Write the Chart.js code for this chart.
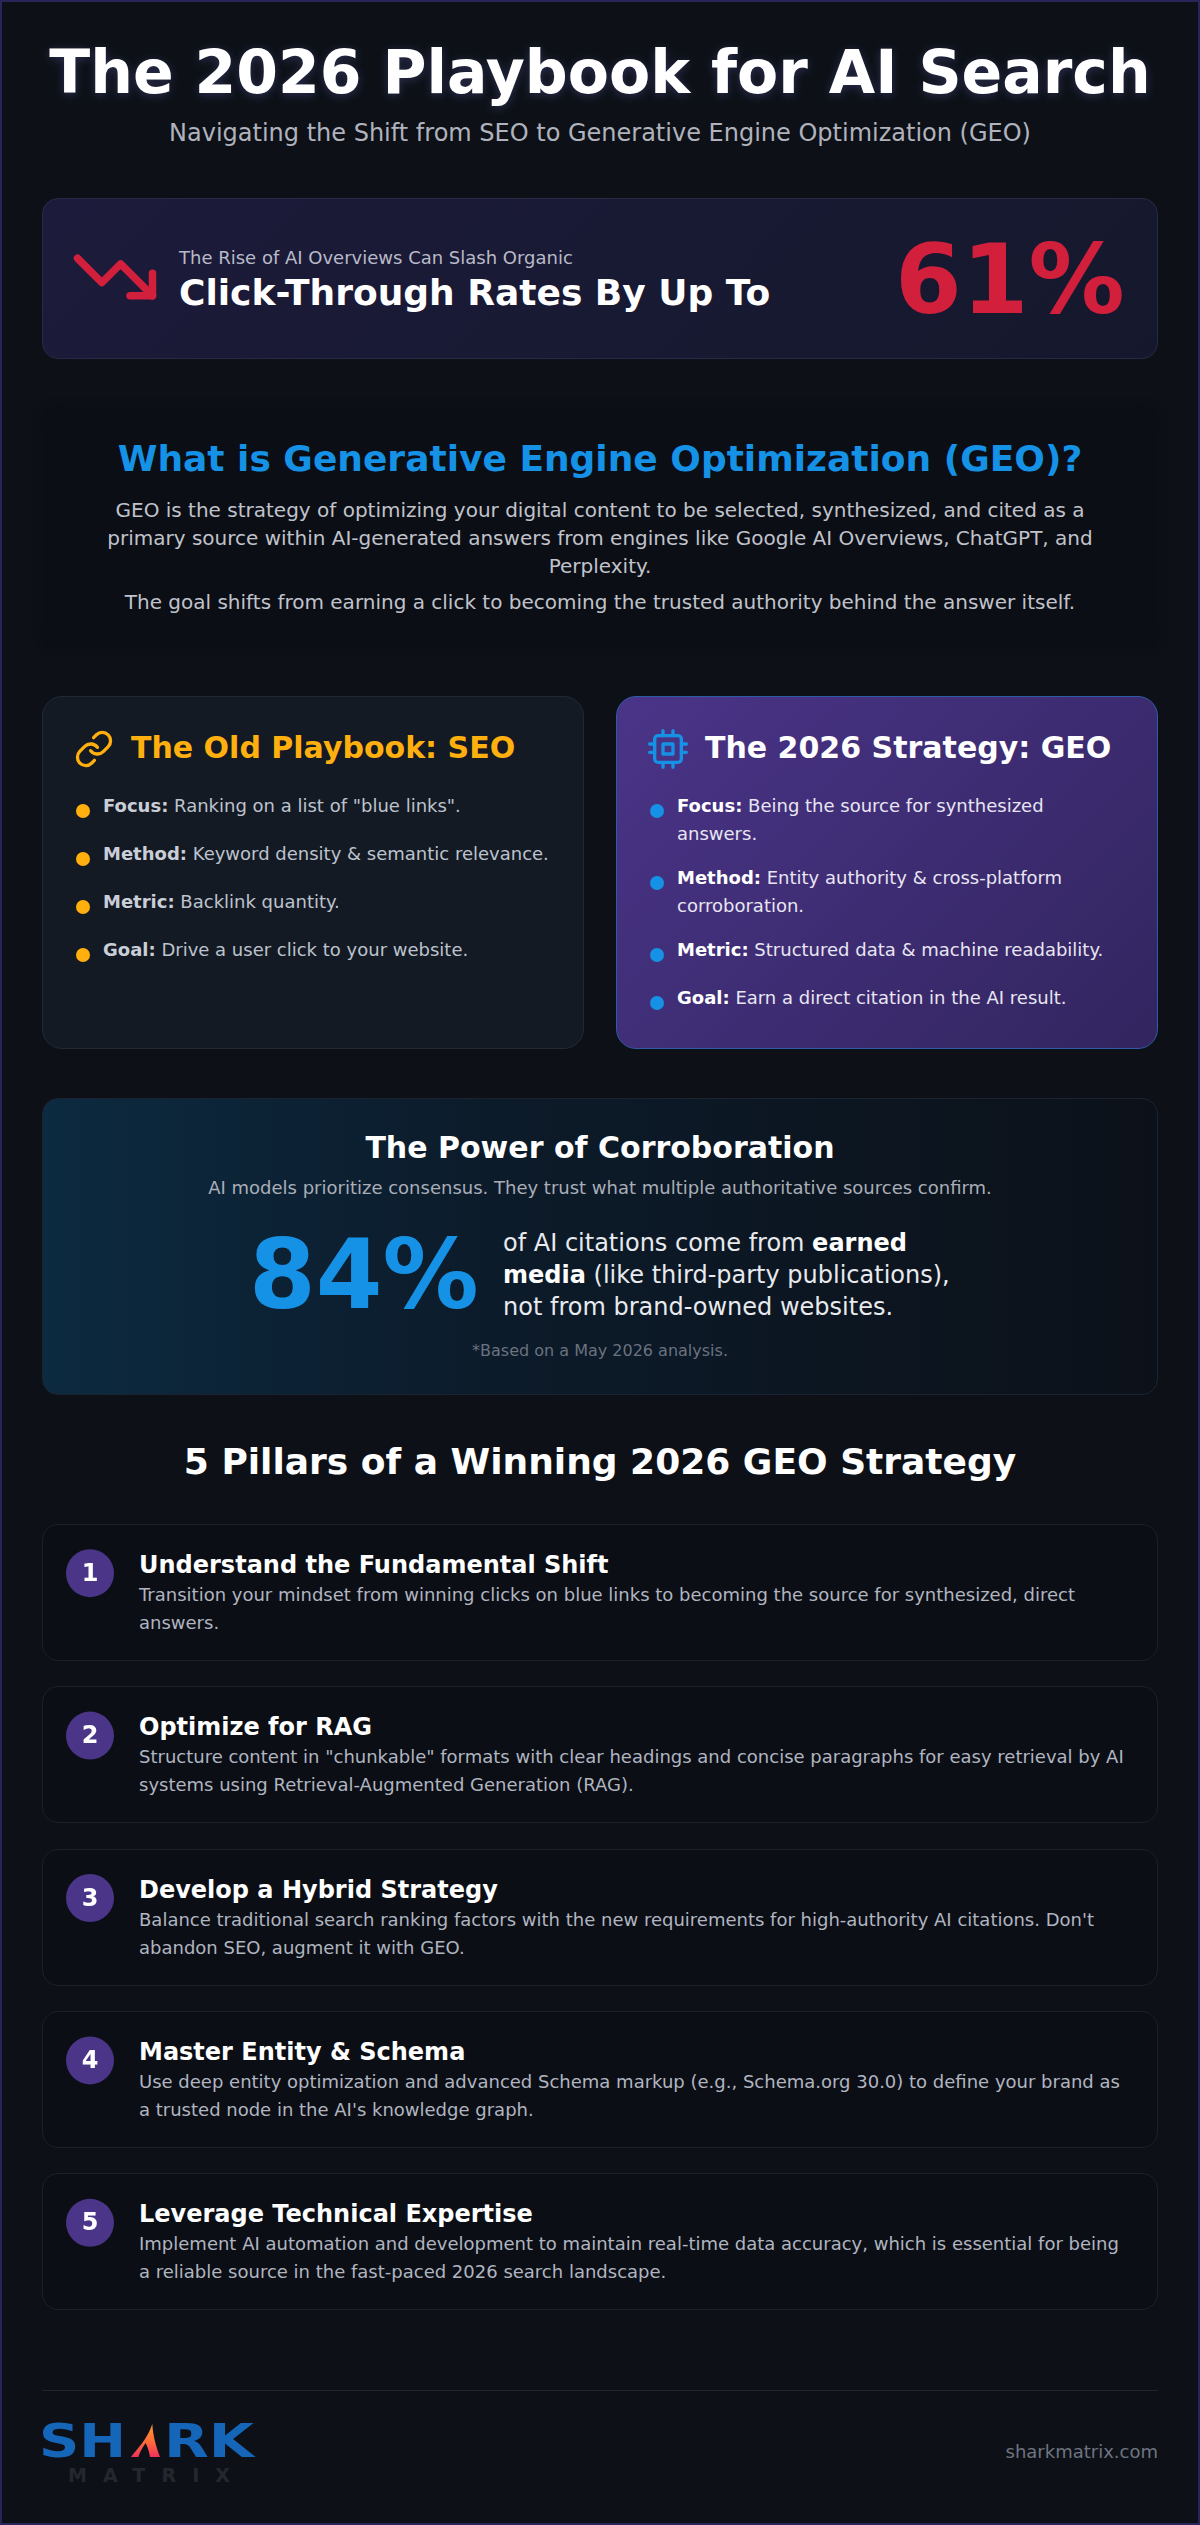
<!DOCTYPE html>
<html>
<head>
<meta charset="utf-8">
<title>The 2026 Playbook for AI Search</title>
<script src="https://cdn.jsdelivr.net/npm/chart.js@4"></script>
<style>
  * { box-sizing: border-box; margin: 0; padding: 0; }
  html, body { background: #0d1117; }
  body { font-family: "DejaVu Sans", sans-serif; }
  #page { position: relative; width: 1200px; height: 2525px; background: #0d1117; border: 2px solid #2a2558; overflow: hidden; }
  /* everything is placed from the page corner, so undo the frame width */
  #inner { position: absolute; left: -2px; top: -2px; width: 1200px; height: 2525px; }
  .a { position: absolute; white-space: nowrap; }
  .c { left: 0; width: 1200px; text-align: center; }
  .box { position: absolute; left: 42px; width: 1116px; border-radius: 16px; }

  #title { top: 32px; font-size: 60px; line-height: 80px; font-weight: 700; color: #fff; text-shadow: 0 2px 10px rgba(120,120,220,.3); }
  #subtitle { top: 116px; font-size: 24px; line-height: 34px; color: #b0b3bd; }

  #alert { top: 198px; height: 161px; background: linear-gradient(135deg, #1c1b3b, #15182c); border: 1px solid #262a45; }
  #alertSmall { left: 179px; top: 244px; font-size: 18px; line-height: 28px; color: #b9bac8; }
  #alertBig { left: 179px; top: 270px; font-size: 36px; line-height: 46px; font-weight: 700; color: #fff; }
  #stat61 { left: 895px; top: 220px; font-size: 96px; line-height: 120px; font-weight: 700; color: #d21f3c; }

  #what { top: 407px; height: 241px; background: #0b0e15; box-shadow: 0 0 8px #0b0e15; }
  #whatHead { top: 434px; font-size: 36px; line-height: 50px; font-weight: 700; color: #1592e6; }
  .whatLine { font-size: 20px; line-height: 28px; color: #c0c3cb; }

  .col { position: absolute; top: 696px; width: 542px; height: 353px; border-radius: 20px; }
  #colSeo { left: 42px; background: #141a23; border: 1px solid #232833; }
  #colGeo { left: 616px; background: linear-gradient(135deg, #4a3488, #32255f); border: 1px solid #2f5aa6; }
  .colHead { top: 726px; font-size: 30px; line-height: 44px; font-weight: 700; }
  .bullet { position: absolute; width: 14px; height: 14px; border-radius: 50%; }
  .item { font-size: 18px; line-height: 28px; }
  .seoItem { color: #bcc3ce; }
  .seoItem b { color: #c9ced8; }
  .geoItem { color: #e8e6f2; }
  .geoItem b { color: #fff; }

  #power { top: 1098px; height: 297px; background: linear-gradient(90deg, #0c2a40, #0c1b2a 40%, #0c1119); border: 1px solid #1b2330; }
  #powerHead { top: 1126px; font-size: 30px; line-height: 44px; font-weight: 700; color: #fff; }
  #powerSub { top: 1174px; font-size: 18px; line-height: 28px; color: #a9aeb8; }
  #stat84 { left: 249px; top: 1215px; font-size: 96px; line-height: 120px; font-weight: 700; color: #1592e6; }
  .powerLine { left: 503px; font-size: 24px; line-height: 32px; color: #e8eaee; }
  .powerLine b { color: #fff; }
  #powerNote { top: 1338px; font-size: 16px; line-height: 26px; color: #6a7280; }

  #pillarsHead { top: 1437px; font-size: 36px; line-height: 50px; font-weight: 700; color: #fff; }
  .pillar { position: absolute; left: 42px; width: 1116px; height: 137px; background: #0b0e15; border: 1px solid #1b2029; border-radius: 16px; }
  #pillarDots { position: absolute; left: 60px; top: 1492px; z-index: 2; }
  .pillarNum { left: 66px; width: 48px; text-align: center; font-size: 24px; line-height: 30px; font-weight: 700; color: #fff; z-index: 3; }
  .pillarTitle { left: 139px; font-size: 24px; line-height: 32px; font-weight: 700; color: #fff; }
  .pillarDesc { left: 139px; font-size: 18px; line-height: 28px; color: #b0b5c0; }

  #footLine { position: absolute; left: 42px; top: 2390px; width: 1116px; height: 1px; background: #22272f; }
  #logo { position: absolute; left: 42px; top: 2420px; }
  #site { right: 42px; top: 2438px; font-size: 18px; line-height: 28px; color: #6e7480; }
</style>
</head>
<body>
<div id="page"><div id="inner">
  <div id="title" class="a c"></div>
  <div id="subtitle" class="a c">Navigating the Shift from SEO to Generative Engine Optimization (GEO)</div>

  <div id="alert" class="box"></div>
  <svg class="a" style="left:69.5px;top:232px" width="90" height="90" viewBox="0 0 24 24" fill="none" stroke="#d21f3c" stroke-width="2" stroke-linecap="round" stroke-linejoin="round">
    <polyline points="22 17 13.5 8.5 8.5 13.5 2 7"></polyline><polyline points="16 17 22 17 22 11"></polyline>
  </svg>
  <div id="alertSmall" class="a">The Rise of AI Overviews Can Slash Organic</div>
  <div id="alertBig" class="a">Click-Through Rates By Up To</div>
  <div id="stat61" class="a"></div>

  <div id="what" class="box"></div>
  <div id="whatHead" class="a c">What is Generative Engine Optimization (GEO)?</div>
  <div class="a c whatLine" style="top:496px">GEO is the strategy of optimizing your digital content to be selected, synthesized, and cited as a</div>
  <div class="a c whatLine" style="top:524px">primary source within AI-generated answers from engines like Google AI Overviews, ChatGPT, and</div>
  <div class="a c whatLine" style="top:552px">Perplexity.</div>
  <div class="a c whatLine" style="top:588px">The goal shifts from earning a click to becoming the trusted authority behind the answer itself.</div>

  <div id="colSeo" class="col"></div>
  <div id="colGeo" class="col"></div>
  <svg class="a" style="left:74px;top:729px" width="40" height="40" viewBox="0 0 24 24" fill="none" stroke="#ffb00f" stroke-width="2" stroke-linecap="round" stroke-linejoin="round">
    <path d="M10 13a5 5 0 0 0 7.54.54l3-3a5 5 0 0 0-7.07-7.07l-1.72 1.71"></path><path d="M14 11a5 5 0 0 0-7.54-.54l-3 3a5 5 0 0 0 7.07 7.07l1.71-1.71"></path>
  </svg>
  <svg class="a" style="left:648px;top:729px" width="40" height="40" viewBox="0 0 24 24" fill="none" stroke="#1592e6" stroke-width="2" stroke-linecap="round" stroke-linejoin="round">
    <rect x="4" y="4" width="16" height="16" rx="2"></rect><rect x="9" y="9" width="6" height="6"></rect>
    <path d="M9 1v3M15 1v3M9 20v3M15 20v3M20 9h3M20 14h3M1 9h3M1 14h3"></path>
  </svg>
  <div class="a colHead" style="left:131px;color:#ffb00f">The Old Playbook: SEO</div>
  <div class="a colHead" style="left:705px;color:#fff">The 2026 Strategy: GEO</div>
  <div id="seoList"></div>
  <div id="geoList"></div>

  <div id="power" class="box"></div>
  <div id="powerHead" class="a c">The Power of Corroboration</div>
  <div id="powerSub" class="a c">AI models prioritize consensus. They trust what multiple authoritative sources confirm.</div>
  <div id="stat84" class="a"></div>
  <div class="a powerLine" style="top:1227px">of AI citations come from <b>earned</b></div>
  <div class="a powerLine" style="top:1259px"><b>media</b> (like third-party publications),</div>
  <div class="a powerLine" style="top:1291px">not from brand-owned websites.</div>
  <div id="powerNote" class="a c">*Based on a May 2026 analysis.</div>

  <div id="pillarsHead" class="a c">5 Pillars of a Winning 2026 GEO Strategy</div>
  <div id="pillarList"></div>
  <canvas id="pillarDots" width="60" height="812"></canvas>

  <div id="footLine"></div>
  <svg id="logo" width="220" height="70" viewBox="0 0 220 70">
    <defs><linearGradient id="finGrad" x1="0" y1="0" x2="0" y2="1"><stop offset="0" stop-color="#ff9a2e"></stop><stop offset="0.55" stop-color="#ff6a3a"></stop><stop offset="1" stop-color="#f0305c"></stop></linearGradient></defs>
    <text x="-3" y="37" font-family="DejaVu Sans" font-weight="700" font-size="46.6" fill="#1565b8" textLength="87" lengthAdjust="spacingAndGlyphs">SH</text>
    <path d="M110.3 4 C111 16 114 26 118 37 L108 37 C107 31 105.5 27 103.7 23 C100.5 27 98 32 96.3 37 L89 37 C96 28 106 18 110.3 4 Z" fill="url(#finGrad)"></path>
    <text x="122" y="37" font-family="DejaVu Sans" font-weight="700" font-size="46.6" fill="#1565b8" textLength="90" lengthAdjust="spacingAndGlyphs">RK</text>
    <text x="26" y="62" font-family="DejaVu Sans" font-weight="700" font-size="19" fill="#24272d" textLength="162" lengthAdjust="spacing">MATRIX</text>
  </svg>
  <div id="site" class="a">sharkmatrix.com</div>
</div></div>

<script>
// Figures and text
const statLabels = ['Organic click-through drop', 'AI citations from earned media'];
const statValues = [61, 84];

const rowLabels = ['Focus:', 'Method:', 'Metric:', 'Goal:'];
const seoTexts = [
  ['Ranking on a list of "blue links".'],
  ['Keyword density & semantic relevance.'],
  ['Backlink quantity.'],
  ['Drive a user click to your website.']
];
const geoTexts = [
  ['Being the source for synthesized', 'answers.'],
  ['Entity authority & cross-platform', 'corroboration.'],
  ['Structured data & machine readability.'],
  ['Earn a direct citation in the AI result.']
];

const pillarNumbers = ['1', '2', '3', '4', '5'];
const pillarWeights = [1, 1, 1, 1, 1];
const pillarTitles = [
  'Understand the Fundamental Shift',
  'Optimize for RAG',
  'Develop a Hybrid Strategy',
  'Master Entity & Schema',
  'Leverage Technical Expertise'
];
const pillarDescriptions = [
  ['Transition your mindset from winning clicks on blue links to becoming the source for synthesized, direct', 'answers.'],
  ['Structure content in "chunkable" formats with clear headings and concise paragraphs for easy retrieval by AI', 'systems using Retrieval-Augmented Generation (RAG).'],
  ['Balance traditional search ranking factors with the new requirements for high-authority AI citations. Don\'t', 'abandon SEO, augment it with GEO.'],
  ['Use deep entity optimization and advanced Schema markup (e.g., Schema.org 30.0) to define your brand as', 'a trusted node in the AI\'s knowledge graph.'],
  ['Implement AI automation and development to maintain real-time data accuracy, which is essential for being', 'a reliable source in the fast-paced 2026 search landscape.']
];

document.getElementById('title').textContent = 'The 2026 Playbook for AI Search';
document.getElementById('stat61').textContent = statValues[0] + '%';
document.getElementById('stat61').title = statLabels[0];
document.getElementById('stat84').textContent = statValues[1] + '%';
document.getElementById('stat84').title = statLabels[1];

// bullet rows of the two comparison cards
function buildRows(holderId, texts, textLeft, dotLeft, dotColor, cls) {
  const holder = document.getElementById(holderId);
  let top = 792;
  texts.forEach(function (lines, i) {
    const dot = document.createElement('div');
    dot.className = 'bullet';
    dot.style.left = dotLeft + 'px';
    dot.style.top = (top + 12) + 'px';
    dot.style.background = dotColor;
    holder.appendChild(dot);
    lines.forEach(function (line, j) {
      const row = document.createElement('div');
      row.className = 'a item ' + cls;
      row.style.left = textLeft + 'px';
      row.style.top = (top + j * 28) + 'px';
      if (j === 0) {
        const b = document.createElement('b');
        b.textContent = rowLabels[i];
        row.appendChild(b);
        row.appendChild(document.createTextNode(' ' + line));
      } else {
        row.textContent = line;
      }
      holder.appendChild(row);
    });
    top += (lines.length === 2 ? 72 : 48);
  });
}
buildRows('seoList', seoTexts, 103, 76, '#ffb00f', 'seoItem');
buildRows('geoList', geoTexts, 677, 650, '#1592e6', 'geoItem');

// pillar cards
const pillarHolder = document.getElementById('pillarList');
pillarNumbers.forEach(function (num, i) {
  const y = 1524 + i * 162.3;
  function add(cls, top, text) {
    const el = document.createElement('div');
    el.className = cls;
    el.style.top = top + 'px';
    el.textContent = text;
    pillarHolder.appendChild(el);
  }
  add('pillar', y, '');
  add('a pillarNum', y + 34, num);
  add('a pillarTitle', y + 25, pillarTitles[i]);
  pillarDescriptions[i].forEach(function (line, j) {
    add('a pillarDesc', y + 57 + j * 28, line);
  });
});

// The round pillar badges are the points of a line chart on a category axis
const badgeCtx = document.getElementById('pillarDots').getContext('2d');
new Chart(badgeCtx, {
  type: 'line',
  data: {
    labels: pillarNumbers,
    datasets: [{
      label: 'Pillars',
      data: pillarWeights,
      showLine: false,
      pointRadius: 24,
      pointBorderWidth: 0,
      pointBackgroundColor: '#4b3589',
      clip: false
    }]
  },
  options: {
    indexAxis: 'y',
    responsive: false,
    animation: false,
    events: [],
    layout: { autoPadding: false },
    plugins: { legend: { display: false }, tooltip: { enabled: false } },
    scales: {
      x: { display: false, min: 0, max: 2 },
      y: { display: false, offset: true }
    }
  }
});
</script>
</body>
</html>
